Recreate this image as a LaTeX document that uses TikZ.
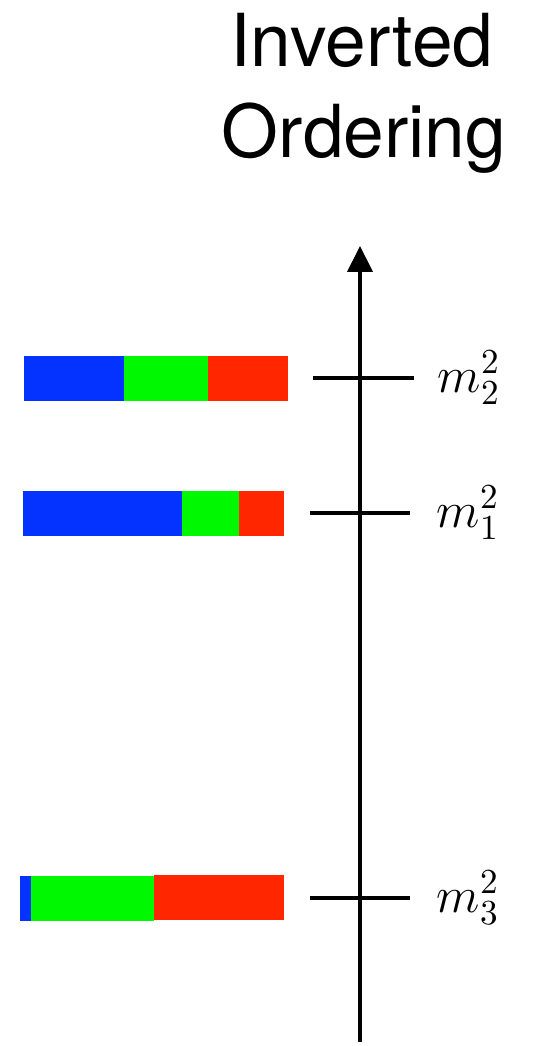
\documentclass[tikz,border=0pt]{standalone}
\usepackage{fontspec}
\newfontfamily\titlefont{TeX Gyre Heros}
\usetikzlibrary{arrows.meta}
\definecolor{nublue}{HTML}{0433FF}
\definecolor{nugreen}{HTML}{00F900}
\definecolor{nured}{HTML}{FF2600}
\tikzset{
	levelline/.style={line width=1.15pt},
	masslabel/.style={anchor=west, inner sep=0pt, font=\fontsize{14}{16}\selectfont},
	titleline/.style={anchor=base, inner sep=0pt, font=\titlefont\fontsize{20.8}{25}\selectfont}
}
\begin{document}
\begin{tikzpicture}
	\useasboundingbox (0, 0) rectangle (5.59, 10.46);
	% Заголовок
	\node[titleline] (title1) at (3.62, 9.79) {Inverted};
	\node[titleline] (title2) at (3.64, 8.88) {Ordering};
	
	% Ось
	\draw[levelline, -{Triangle[length=2.6mm, width=2.5mm]}] (3.60, 0.04) -- (3.60, 8.00);
	
	% Уровни
	\draw[levelline] (3.13, 6.68) -- (4.14, 6.68);
	\draw[levelline] (3.10, 5.33) -- (4.10, 5.33);
	\draw[levelline] (3.10, 1.48) -- (4.10, 1.48);
	\node[masslabel] (m2) at (4.37, 6.68) {$m_2^2$};
	\node[masslabel] (m1) at (4.36, 5.33) {$m_1^2$};
	\node[masslabel] (m3) at (4.36, 1.48) {$m_3^2$};
	
	% Полосы
	\fill[nublue]  (0.24, 6.45) rectangle (1.24, 6.90);
	\fill[nugreen] (1.24, 6.45) rectangle (2.08, 6.90);
	\fill[nured]   (2.08, 6.45) rectangle (2.88, 6.90);
	
	\fill[nublue]  (0.23, 5.10) rectangle (1.82, 5.55);
	\fill[nugreen] (1.82, 5.10) rectangle (2.39, 5.55);
	\fill[nured]   (2.39, 5.10) rectangle (2.84, 5.55);
	
	\fill[nublue]  (0.20, 1.25) rectangle (0.31, 1.70);
	\fill[nugreen] (0.31, 1.25) rectangle (1.54, 1.70);
	\fill[nured]   (1.54, 1.26) rectangle (2.84, 1.71);
\end{tikzpicture}
\end{document}
